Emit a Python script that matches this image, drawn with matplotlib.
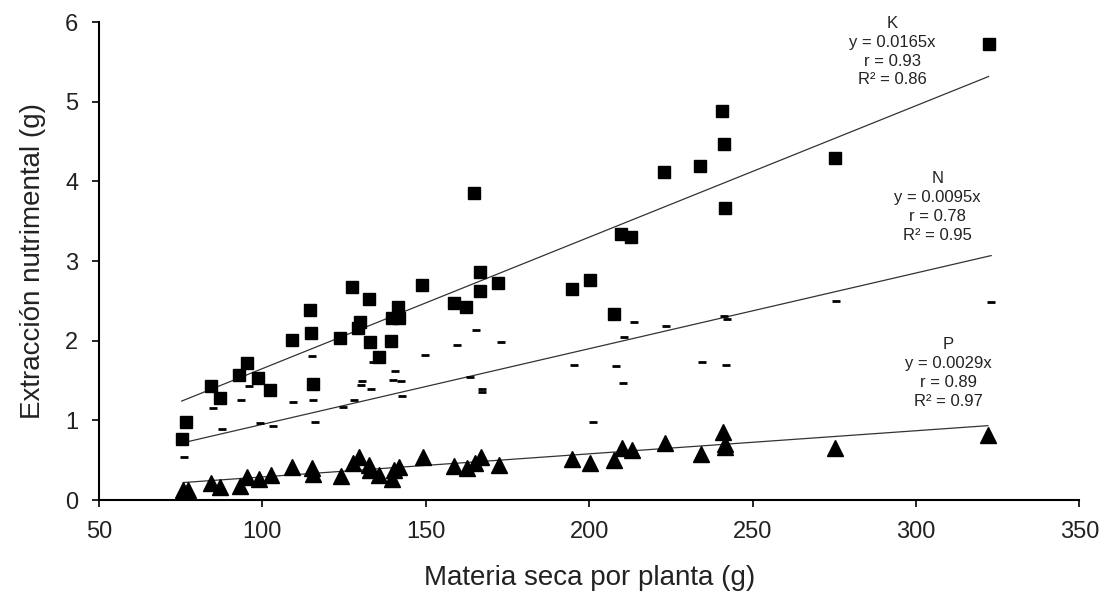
import numpy as np
import matplotlib
matplotlib.use("Agg")
import matplotlib.pyplot as plt

plt.rcParams["font.family"] = ["Liberation Sans", "DejaVu Sans"]

# K (squares)
x_k = [75.3, 76.6, 84.3, 87.0, 92.8, 95.2, 98.6, 102.3, 108.9, 114.7, 115.0, 115.4,
       123.8, 127.3, 129.3, 130.0, 132.7, 132.9, 135.7, 139.3, 139.8, 141.5, 141.8,
       148.9, 158.7, 162.2, 164.7, 166.6, 166.6, 172.2, 194.6, 200.2, 207.6, 209.6,
       212.8, 223.0, 233.9, 240.7, 241.1, 241.5, 275.1, 322.2]
y_k = [0.77, 0.98, 1.43, 1.28, 1.57, 1.72, 1.53, 1.38, 2.01, 2.38, 2.10, 1.46,
       2.03, 2.67, 2.16, 2.24, 2.52, 1.99, 1.80, 2.00, 2.29, 2.42, 2.28,
       2.70, 2.47, 2.42, 3.85, 2.86, 2.63, 2.72, 2.65, 2.76, 2.34, 3.34,
       3.30, 4.12, 4.19, 4.88, 4.47, 3.67, 4.29, 5.72]

# N (dashes)
x_n = [76.0, 85.0, 87.6, 93.4, 95.8, 99.2, 103.3, 109.4, 115.2, 115.4, 116.1,
       124.7, 128.1, 130.5, 130.1, 133.2, 133.7, 140.7, 140.0, 142.4, 142.6,
       149.6, 159.6, 165.5, 163.5, 167.3, 167.3, 172.9, 195.4, 201.2, 208.3,
       210.3, 210.6, 213.6, 223.6, 234.6, 241.4, 242.1, 242.0, 275.6, 323.0]
y_n = [0.54, 1.16, 0.89, 1.25, 1.43, 0.97, 0.93, 1.23, 1.81, 1.25, 0.98,
       1.17, 1.25, 1.50, 1.44, 1.40, 1.73, 1.62, 1.51, 1.49, 1.30,
       1.82, 1.95, 2.13, 1.54, 1.40, 1.35, 1.99, 1.70, 0.98, 1.68,
       1.47, 2.05, 2.23, 2.19, 1.73, 2.31, 2.27, 1.69, 2.50, 2.48]

# P (triangles)
x_p = [75.8, 77.1, 84.2, 87.0, 93.1, 95.2, 98.9, 102.5, 109.2, 115.2, 115.5,
       123.9, 127.8, 129.6, 132.7, 132.9, 135.7, 139.5, 140.3, 141.8, 149.0,
       158.7, 162.5, 165.0, 167.0, 172.4, 194.7, 200.3, 207.7, 210.0, 213.2,
       223.2, 234.2, 240.9, 241.6, 241.6, 275.3, 322.0]
y_p = [0.13, 0.13, 0.22, 0.17, 0.18, 0.29, 0.26, 0.31, 0.41, 0.40, 0.33,
       0.30, 0.47, 0.54, 0.44, 0.38, 0.31, 0.27, 0.38, 0.42, 0.54,
       0.43, 0.40, 0.47, 0.54, 0.44, 0.52, 0.47, 0.50, 0.65, 0.63,
       0.72, 0.58, 0.86, 0.70, 0.66, 0.65, 0.82]

# regression through origin
slopes = {"K": 0.0165, "N": 0.0095, "P": 0.0029}
labels = {
    "K": "K\ny = 0.0165x\nr = 0.93\nR² = 0.86",
    "N": "N\ny = 0.0095x\nr = 0.78\nR² = 0.95",
    "P": "P\ny = 0.0029x\nr = 0.89\nR² = 0.97",
}
label_pos = {"K": (292.8, 5.63), "N": (306.6, 3.68), "P": (310.0, 1.59)}

fig = plt.figure(figsize=(11.04, 5.96), dpi=100)
ax = fig.add_axes([0.0897, 0.161, 0.888, 0.802])

ax.plot(x_k, y_k, "s", color="black", ms=8.5, zorder=3)
ax.plot(x_n, y_n, "_", color="black", ms=5.5, mew=2, zorder=3)
ax.plot(x_p, y_p, "^", color="black", ms=11, zorder=3)

for key, xs in [("K", x_k), ("N", x_n), ("P", x_p)]:
    xl = np.array([min(xs), max(xs)])
    ax.plot(xl, slopes[key] * xl, color="#333333", lw=0.9, zorder=2)
    tx, ty = label_pos[key]
    ax.text(tx, ty, labels[key], ha="center", va="center", fontsize=12,
            linespacing=1.33, color="#222222")

ax.set_xlim(50, 350)
ax.set_ylim(0, 6)
ax.set_xticks(np.arange(50, 351, 50))
ax.set_yticks(np.arange(0, 7, 1))
ax.spines["top"].set_visible(False)
ax.spines["right"].set_visible(False)
ax.spines["left"].set_linewidth(1.5)
ax.spines["bottom"].set_linewidth(1.5)
ax.tick_params(direction="out", length=5, width=1.2, labelsize=17, pad=10,
               labelcolor="#222222")
ax.set_xlabel("Materia seca por planta (g)", fontsize=20, labelpad=16, color="#222222")
ax.set_ylabel("Extracción nutrimental (g)", fontsize=20, labelpad=14, color="#222222")

plt.savefig("out.png", dpi=100)
